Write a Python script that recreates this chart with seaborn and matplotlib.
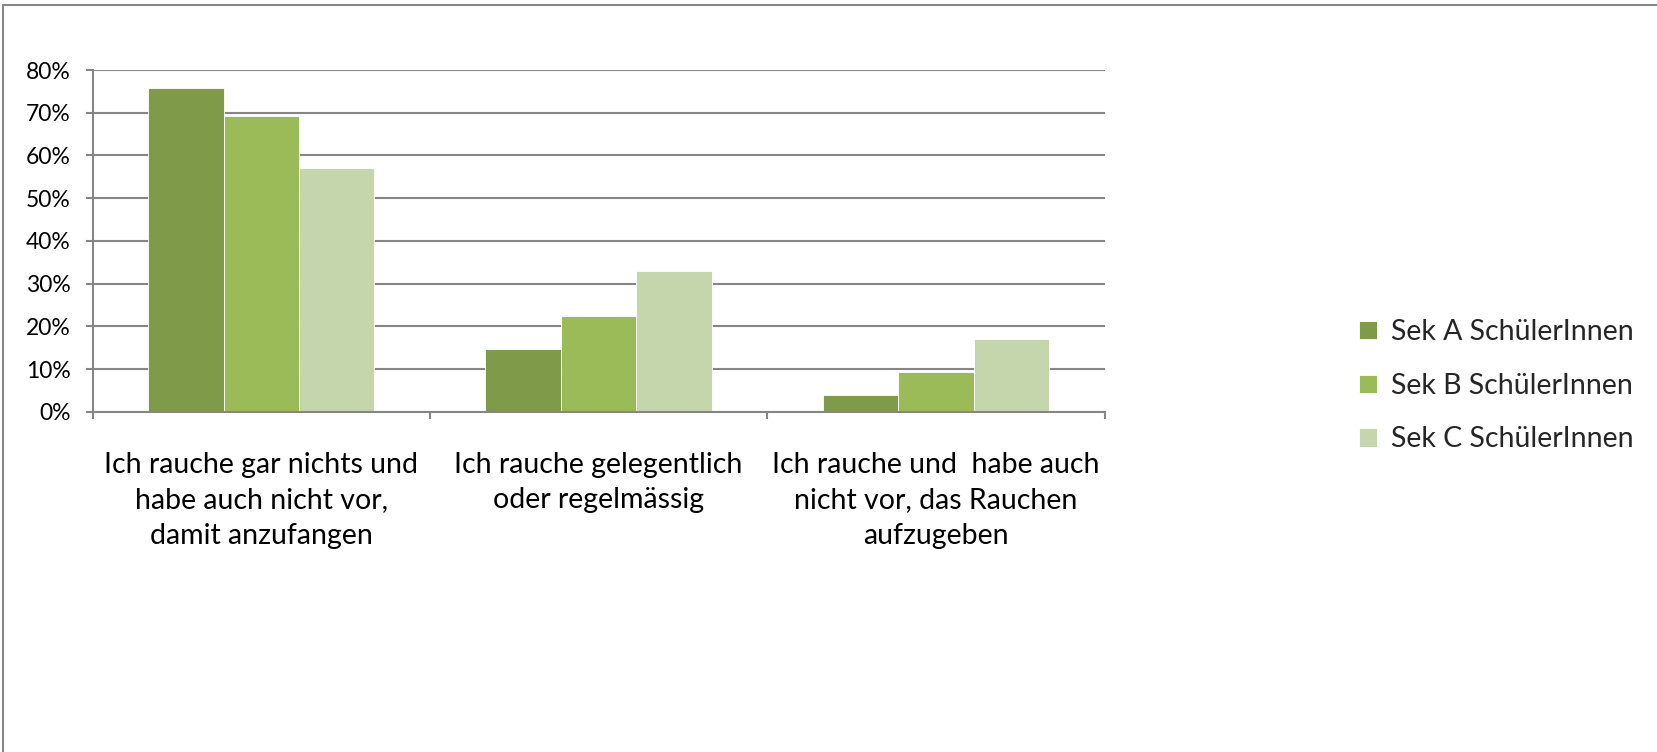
import matplotlib
matplotlib.use("Agg")
import matplotlib.pyplot as plt
import seaborn as sns
import pandas as pd
from matplotlib.lines import Line2D
from matplotlib.ticker import FixedLocator, FuncFormatter

categories = [
    "Ich rauche gar nichts und\nhabe auch nicht vor,\ndamit anzufangen",
    "Ich rauche gelegentlich\noder regelmässig",
    "Ich rauche und  habe auch\nnicht vor, das Rauchen\naufzugeben",
]
series = ["Sek A SchülerInnen", "Sek B SchülerInnen", "Sek C SchülerInnen"]
sek_a = [75.7, 14.8, 3.8]
sek_b = [69.3, 22.5, 9.3]
sek_c = [57.1, 32.9, 17.0]
y_ticks = [0, 10, 20, 30, 40, 50, 60, 70, 80]
colors = ["#7f9a48", "#9bbb59", "#c6d6ac"]

df = pd.DataFrame({
    "Kategorie": categories * 3,
    "Gruppe": [s for s in series for _ in categories],
    "Anteil": sek_a + sek_b + sek_c,
})

sns.set_theme(style="white")
plt.rcParams["font.family"] = ["Lato", "DejaVu Sans"]

fig = plt.figure(figsize=(16.57, 7.52), dpi=100)
ax = fig.add_axes([0.0559, 0.4525, 0.6108, 0.4544])

sns.barplot(data=df, x="Kategorie", y="Anteil", hue="Gruppe", order=categories,
            hue_order=series, palette=colors, width=0.671, saturation=1,
            edgecolor="white", linewidth=0.6, ax=ax, legend=True, errorbar=None)

grid_c = "#868686"
ax.set_xlim(-0.5, 2.5)
ax.set_ylim(0, 80)
ax.yaxis.set_major_locator(FixedLocator(y_ticks))
ax.yaxis.set_major_formatter(FuncFormatter(lambda v, p: f"{int(v)}%"))
ax.grid(axis="y", color=grid_c, linewidth=1.5)
ax.set_axisbelow(True)
for side in ["top", "right"]:
    ax.spines[side].set_visible(False)
for side in ["left", "bottom"]:
    ax.spines[side].set_color(grid_c)
    ax.spines[side].set_linewidth(1.5)

ax.set_xticks([-0.5, 0.5, 1.5, 2.5])
ax.set_xticklabels([])
ax.tick_params(axis="x", which="major", bottom=True, length=5, width=1.5, color=grid_c)
ax.set_xticks([0, 1, 2], minor=True)
ax.set_xticklabels(categories, minor=True, fontsize=20.5, linespacing=1.45, color="black")
ax.tick_params(axis="x", which="minor", bottom=False, pad=25)
ax.tick_params(axis="y", left=True, length=5, width=1.5, color=grid_c, pad=11,
               labelsize=16.5, labelcolor="black")
ax.set_xlabel("")
ax.set_ylabel("")

handles, labels = ax.get_legend_handles_labels()
ax.get_legend().remove()
fig.legend(handles, labels, loc="center left", bbox_to_anchor=(0.8132, 0.487),
           frameon=False, fontsize=20.5, handlelength=0.62, handleheight=0.62,
           handletextpad=0.5, labelspacing=0.97, borderaxespad=0)

# chart-area frame
fig.add_artist(Line2D([0.0018, 1.0], [0.9935, 0.9935], transform=fig.transFigure,
                      color=grid_c, linewidth=1.5))
fig.add_artist(Line2D([0.0018, 0.0018], [0.0, 0.9935], transform=fig.transFigure,
                      color=grid_c, linewidth=1.5))

fig.savefig("out.png", dpi=100)
